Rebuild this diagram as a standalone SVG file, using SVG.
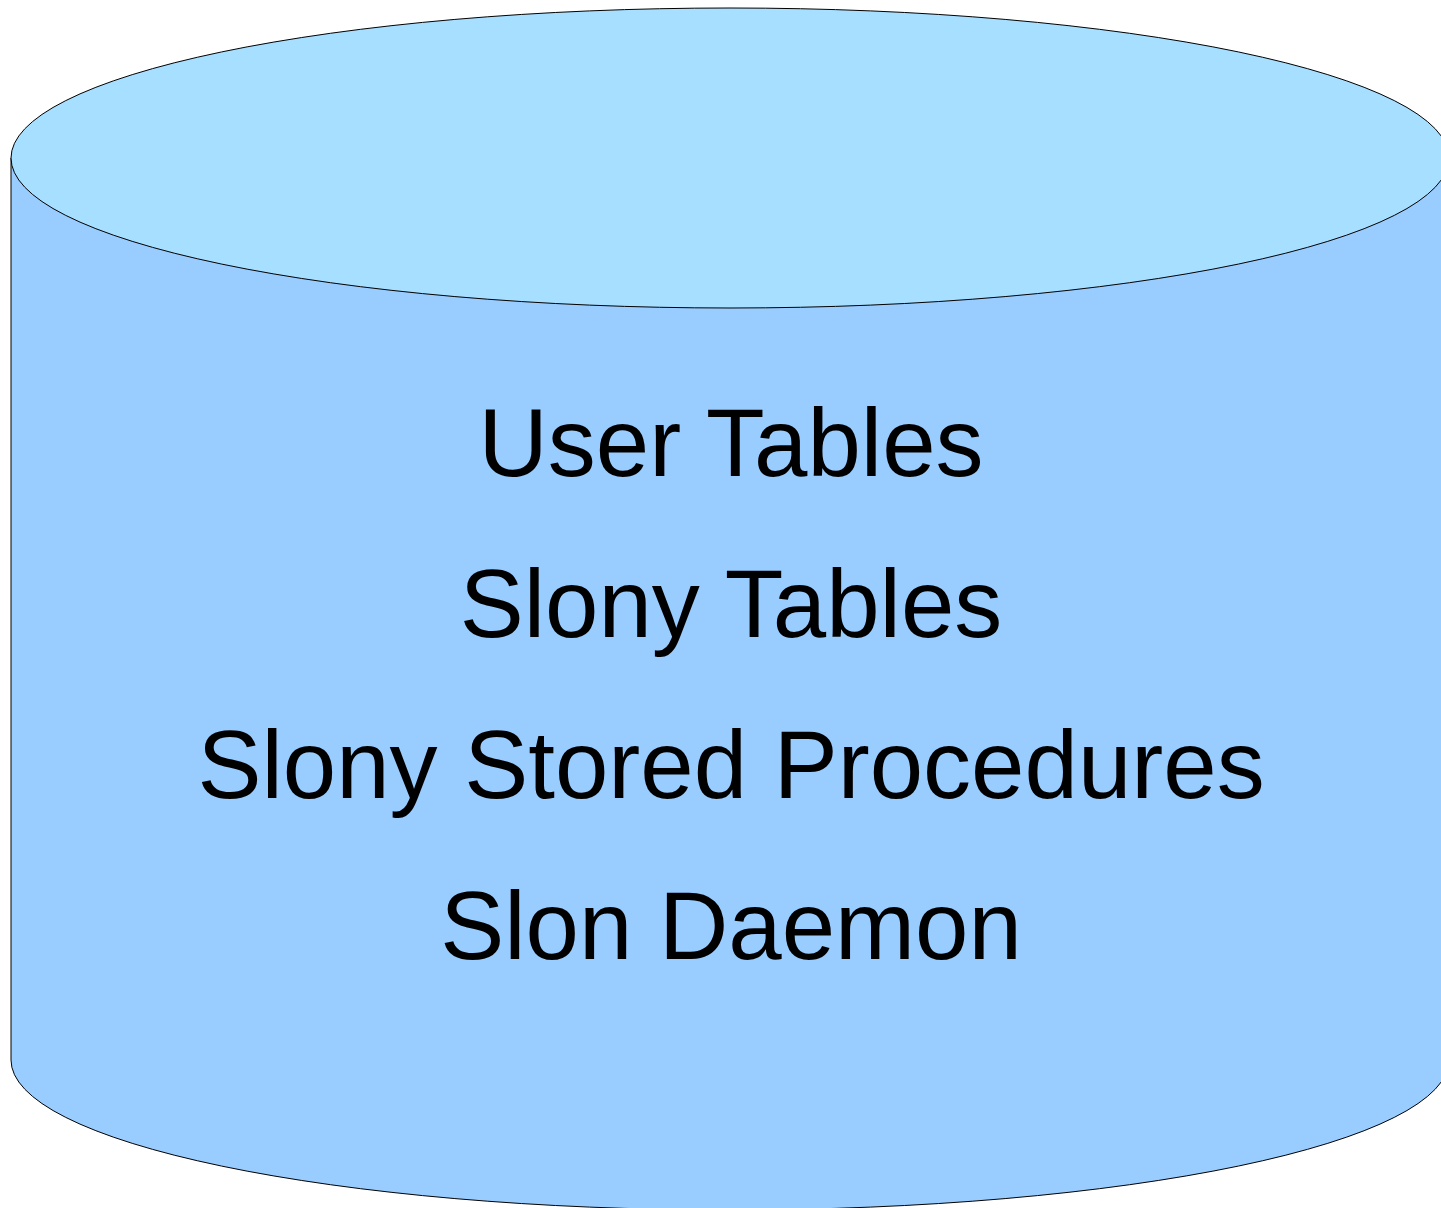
<svg xmlns="http://www.w3.org/2000/svg" width="1441" height="1208" viewBox="0 0 1441 1208">
  <style>
    .body { fill: #99ccff; stroke: #000; stroke-width: 1; }
    .top { fill: #a6dfff; stroke: #000; stroke-width: 1; }
    .label { font-family: "Liberation Sans", Arial, sans-serif; font-size: 96px; fill: #000; text-anchor: middle; }
  </style>
  <g id="database">
    <path class="body" d="M11,158 L11,1060 A719,150 0 0 0 1449,1060 L1449,158 Z"/>
    <ellipse class="top" cx="730" cy="158" rx="719" ry="150"/>
    <text class="label" x="731" y="476">User Tables</text>
    <text class="label" x="731" y="637">Slony Tables</text>
    <text class="label" x="731" y="798">Slony Stored Procedures</text>
    <text class="label" x="731" y="959">Slon Daemon</text>
  </g>
  <g id="connectors"/>
</svg>
